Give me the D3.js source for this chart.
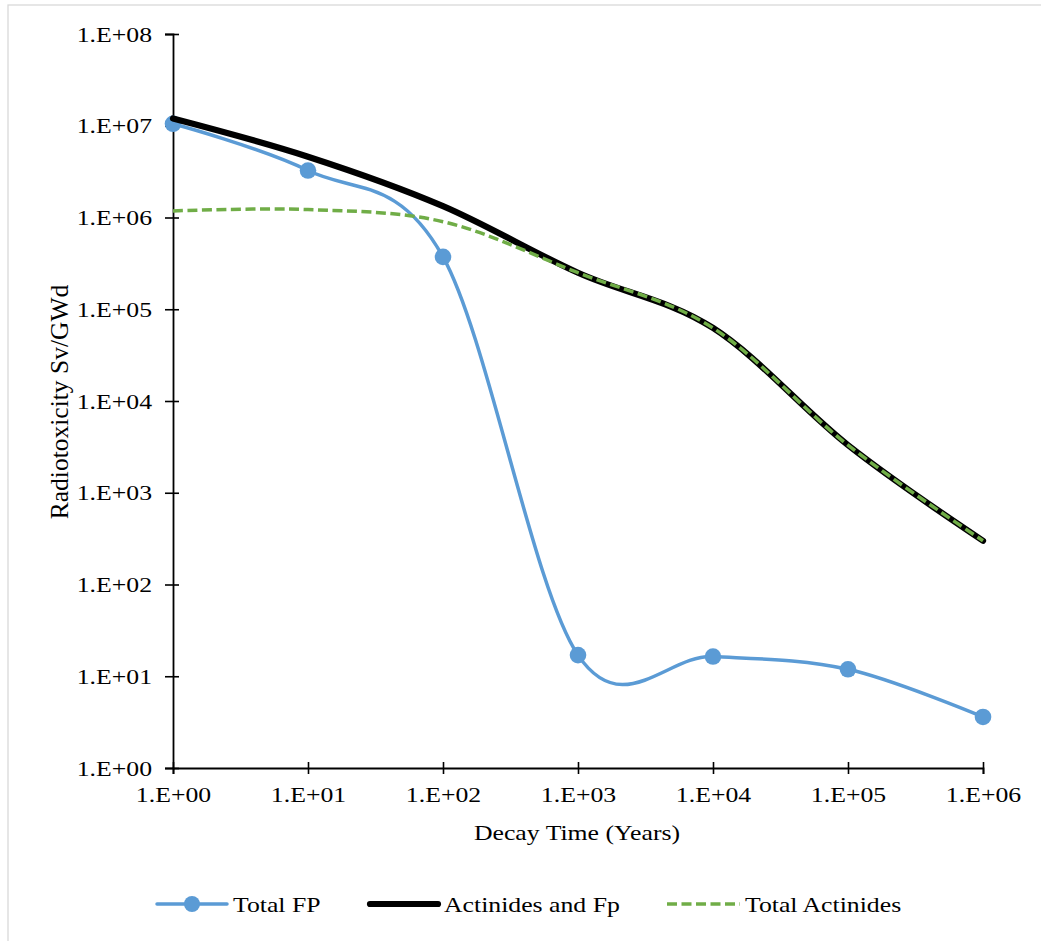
<!DOCTYPE html>
<html>
<head>
<meta charset="utf-8">
<script src="https://cdn.jsdelivr.net/npm/d3@7"></script>
<style>
  html, body { margin: 0; padding: 0; background: #fff; }
  svg { display: block; }
  text { font-family: "Liberation Serif", "Times New Roman", serif; fill: #000; }
</style>
</head>
<body>
<svg id="chart" width="1041" height="941"></svg>
<script>
// Decay time (years) and radiotoxicity (Sv/GWd) per series
const years = [1, 10, 100, 1000, 10000, 100000, 1000000];
const totalFP = [1.05e7, 3.25e6, 3.72e5, 17, 16.4, 11.9, 3.6];
const actinidesAndFp = [1.2e7, 4.6e6, 1.33e6, 2.5e5, 6.25e4, 3.3e3, 300];
const totalActinides = [1.18e6, 1.22e6, 9.0e5, 2.5e5, 6.25e4, 3.3e3, 300];
const yTicks = [1e0, 1e1, 1e2, 1e3, 1e4, 1e5, 1e6, 1e7, 1e8];
const xTicks = [1e0, 1e1, 1e2, 1e3, 1e4, 1e5, 1e6];
const seriesNames = ["Total FP", "Actinides and Fp", "Total Actinides"];

const BLUE = "#5B9BD5", GREEN = "#70AD47", BLACK = "#000000";
const WIDE = 1.17; // horizontal text stretch

const svg = d3.select("#chart");

// outer frame
svg.append("rect")
  .attr("x", 8).attr("y", 5).attr("width", 1060).attr("height", 960)
  .attr("fill", "none").attr("stroke", "#d9d9d9").attr("stroke-width", 1.3);

const x = d3.scaleLog().domain([1, 1e6]).range([173, 983]);
const y = d3.scaleLog().domain([1, 1e8]).range([768, 34]);

const sci = d => "1.E+" + String(Math.round(Math.log10(d))).padStart(2, "0");

function stretch(sel) {
  sel.each(function () {
    const tx = +this.getAttribute("x") || 0;
    d3.select(this).attr("transform", `translate(${tx},0) scale(${WIDE},1) translate(${-tx},0)`);
  });
}

// y axis
const gy = svg.append("g").attr("transform", `translate(${x(1)},0)`)
  .call(d3.axisLeft(y).tickValues(yTicks).tickFormat(sci).tickSizeOuter(0).tickSize(8).tickPadding(13));
gy.select(".domain").attr("stroke", "#000").attr("stroke-width", 1.8);
gy.selectAll(".tick line").attr("x1", 6).attr("x2", -8).attr("stroke", "#000").attr("stroke-width", 1.6);
gy.selectAll(".tick text").attr("font-size", 22).attr("font-family", "Liberation Serif").call(stretch);

// x axis
const gx = svg.append("g").attr("transform", `translate(0,${y(1)})`)
  .call(d3.axisBottom(x).tickValues(xTicks).tickFormat(sci).tickSizeOuter(0).tickSize(6).tickPadding(12));
gx.select(".domain").attr("stroke", "#000").attr("stroke-width", 1.8);
gx.selectAll(".tick line").attr("y1", -6).attr("y2", 6).attr("stroke", "#000").attr("stroke-width", 1.6);
gx.selectAll(".tick text").attr("font-size", 22).attr("font-family", "Liberation Serif").call(stretch);

// axis titles
svg.append("text")
  .attr("x", 0).attr("y", 0)
  .attr("transform", `translate(577,840) scale(${WIDE},1)`)
  .attr("text-anchor", "middle").attr("font-size", 22)
  .text("Decay Time (Years)");

svg.append("text")
  .attr("transform", `translate(68,402) rotate(-90)`)
  .attr("text-anchor", "middle").attr("font-size", 25.5)
  .text("Radiotoxicity Sv/GWd");

// series lines (Excel-style smoothing = uniform Catmull-Rom)
const line = d3.line()
  .x(d => x(d[0])).y(d => y(d[1]))
  .curve(d3.curveCardinal.tension(0));

const zip = vals => years.map((t, i) => [t, vals[i]]);

const plot = svg.append("g");

plot.append("path").datum(zip(totalFP))
  .attr("d", line).attr("fill", "none")
  .attr("stroke", BLUE).attr("stroke-width", 3.5)
  .attr("stroke-linecap", "round").attr("stroke-linejoin", "round");

plot.selectAll("circle.fp").data(zip(totalFP)).join("circle")
  .attr("class", "fp")
  .attr("cx", d => x(d[0])).attr("cy", d => y(d[1])).attr("r", 8.3)
  .attr("fill", BLUE);

plot.append("path").datum(zip(actinidesAndFp))
  .attr("d", line).attr("fill", "none")
  .attr("stroke", BLACK).attr("stroke-width", 6.2)
  .attr("stroke-linecap", "round").attr("stroke-linejoin", "round");

plot.append("path").datum(zip(totalActinides))
  .attr("d", line).attr("fill", "none")
  .attr("stroke", GREEN).attr("stroke-width", 3.5)
  .attr("stroke-dasharray", "10,4.5");

// legend
const legendY = 904;
const legend = svg.append("g");
const items = [
  { name: seriesNames[0], x0: 157, x1: 227, tx: 233 },
  { name: seriesNames[1], x0: 370, x1: 438, tx: 444 },
  { name: seriesNames[2], x0: 667, x1: 740, tx: 745 }
];

legend.append("line").attr("x1", items[0].x0).attr("x2", items[0].x1)
  .attr("y1", legendY).attr("y2", legendY)
  .attr("stroke", BLUE).attr("stroke-width", 3.5).attr("stroke-linecap", "round");
legend.append("circle").attr("cx", (items[0].x0 + items[0].x1) / 2).attr("cy", legendY)
  .attr("r", 8).attr("fill", BLUE);

legend.append("line").attr("x1", items[1].x0).attr("x2", items[1].x1)
  .attr("y1", legendY).attr("y2", legendY)
  .attr("stroke", BLACK).attr("stroke-width", 6.2).attr("stroke-linecap", "round");

legend.append("line").attr("x1", items[2].x0).attr("x2", items[2].x1)
  .attr("y1", legendY).attr("y2", legendY)
  .attr("stroke", GREEN).attr("stroke-width", 3.5).attr("stroke-dasharray", "10,4.5");

legend.selectAll("text").data(items).join("text")
  .attr("x", d => d.tx).attr("y", legendY + 8)
  .attr("font-size", 22)
  .text(d => d.name)
  .call(stretch);
</script>
</body>
</html>
